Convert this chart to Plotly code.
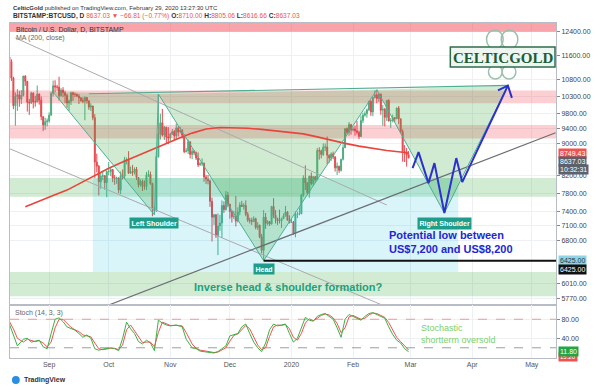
import math
import pandas as pd
import plotly.graph_objects as go
from plotly.subplots import make_subplots

# ---------------- data ----------------
# daily candles (open, high, low, close) BITSTAMP:BTCUSD
ohlc_aug19 = [  # Aug 12 - Aug 31
    (11540, 11600, 11270, 11390), (11390, 11460, 10770, 10860), (10860, 10900, 9930, 10030),
    (10030, 10420, 9470, 10300), (10300, 10520, 9880, 10350), (10350, 10470, 10000, 10220),
    (10220, 10490, 10080, 10330), (10330, 10930, 10300, 10920), (10920, 10950, 10620, 10760),
    (10760, 10770, 9860, 10130), (10130, 10230, 9770, 10110), (10110, 10440, 10080, 10400),
    (10400, 10420, 9950, 10140), (10140, 10320, 10000, 10140), (10140, 10630, 10130, 10370),
    (10370, 10390, 10060, 10190), (10190, 10300, 9620, 9720), (9720, 9720, 9330, 9490),
    (9490, 9690, 9360, 9580), (9580, 9670, 9450, 9600),
]
ohlc_sep19 = [
    (9600, 9840, 9550, 9760), (9760, 10440, 9750, 10390), (10390, 10780, 10300, 10620),
    (10620, 10790, 10420, 10580), (10580, 10650, 10470, 10580), (10580, 10900, 10180, 10320),
    (10320, 10550, 10300, 10490), (10490, 10580, 10280, 10410), (10410, 10470, 10100, 10330),
    (10330, 10380, 9970, 10110), (10110, 10210, 9880, 10160), (10160, 10440, 10050, 10410),
    (10410, 10440, 10170, 10360), (10360, 10420, 10280, 10360), (10360, 10390, 10280, 10310),
    (10310, 10370, 10080, 10260), (10260, 10280, 10140, 10180), (10180, 10270, 10100, 10160),
    (10160, 10300, 9620, 10270), (10270, 10280, 10090, 10170), (10170, 10180, 9910, 9990),
    (9990, 10100, 9880, 10020), (10020, 10030, 9620, 9690), (9690, 9790, 8150, 8530),
    (8530, 8740, 8280, 8430), (8430, 8460, 7750, 8060), (8060, 8270, 7900, 8190),
    (8190, 8320, 8100, 8200), (8200, 8220, 7880, 8040), (8040, 8330, 7710, 8300),
]
ohlc_oct19 = [
    (8300, 8530, 8210, 8300), (8300, 8390, 8190, 8350), (8350, 8360, 8050, 8150),
    (8150, 8220, 7990, 8140), (8140, 8180, 8010, 8150), (8150, 8160, 7800, 7870),
    (7870, 8300, 7780, 8200), (8200, 8350, 8110, 8190), (8190, 8660, 8120, 8590),
    (8590, 8640, 8470, 8590), (8590, 8800, 8250, 8260), (8260, 8420, 8250, 8300),
    (8300, 8460, 8200, 8280), (8280, 8400, 8230, 8360), (8360, 8410, 8100, 8160),
    (8160, 8170, 7930, 7990), (7990, 8110, 7950, 8070), (8070, 8110, 7850, 7950),
    (7950, 8090, 7880, 7950), (7950, 8290, 7870, 8220), (8220, 8330, 8170, 8230),
    (8230, 8300, 7990, 8020), (8020, 8040, 7300, 7460), (7460, 7500, 7360, 7420),
    (7420, 8790, 7390, 8660), (8660, 10370, 8640, 9250), (9250, 9800, 9100, 9550),
    (9550, 9940, 9180, 9220), (9220, 9460, 9090, 9430), (9430, 9430, 9000, 9170),
    (9170, 9430, 8980, 9140),
]
ohlc_nov19 = [
    (9140, 9280, 9050, 9250), (9250, 9380, 9220, 9310), (9310, 9360, 9090, 9200),
    (9200, 9530, 9110, 9410), (9410, 9460, 9180, 9300), (9300, 9440, 9260, 9340),
    (9340, 9380, 9130, 9210), (9210, 9240, 8750, 8790), (8790, 8880, 8770, 8810),
    (8810, 9100, 8730, 9040), (9040, 9060, 8620, 8720), (8720, 8870, 8600, 8800),
    (8800, 8830, 8700, 8760), (8760, 8790, 8580, 8630), (8630, 8770, 8410, 8460),
    (8460, 8530, 8440, 8490), (8490, 8620, 8430, 8500), (8500, 8520, 8060, 8170),
    (8170, 8220, 8010, 8120), (8120, 8220, 8000, 8080), (8080, 8110, 7500, 7620),
    (7620, 7700, 6790, 7280), (7280, 7350, 7120, 7330), (7330, 7350, 6860, 6900),
    (6900, 7360, 6530, 7100), (7100, 7330, 7000, 7160), (7160, 7640, 6860, 7530),
    (7530, 7620, 7370, 7440), (7440, 7850, 7420, 7760), (7760, 7830, 7490, 7560),
]
ohlc_dec19 = [
    (7560, 7560, 7250, 7400), (7400, 7420, 7170, 7290), (7290, 7410, 7240, 7300),
    (7300, 7740, 7090, 7200), (7200, 7490, 7170, 7390), (7390, 7600, 7320, 7540),
    (7540, 7630, 7500, 7510), (7510, 7580, 7440, 7530), (7530, 7640, 7300, 7340),
    (7340, 7390, 7180, 7220), (7220, 7270, 7150, 7210), (7210, 7270, 7120, 7190),
    (7190, 7300, 7190, 7250), (7250, 7270, 7030, 7070), (7070, 7180, 7020, 7110),
    (7110, 7130, 6850, 6880), (6880, 6940, 6560, 6620), (6620, 7430, 6430, 7280),
    (7280, 7370, 7040, 7150), (7150, 7220, 7110, 7190), (7190, 7190, 7100, 7140),
    (7140, 7520, 7130, 7510), (7510, 7690, 7260, 7320), (7320, 7430, 7150, 7250),
    (7250, 7270, 7120, 7200), (7200, 7440, 7150, 7200), (7200, 7270, 7060, 7250),
    (7250, 7360, 7250, 7310), (7310, 7520, 7290, 7390), (7390, 7410, 7210, 7220),
    (7220, 7320, 7150, 7170),
]
ohlc_jan20 = [
    (7170, 7250, 7160, 7180), (7180, 7200, 6920, 6950), (6950, 7400, 6870, 7340),
    (7340, 7400, 7260, 7350), (7350, 7490, 7320, 7350), (7350, 7780, 7350, 7760),
    (7760, 8210, 7720, 8150), (8150, 8450, 7870, 8040), (8040, 8050, 7760, 7810),
    (7810, 8200, 7700, 8190), (8190, 8280, 7980, 8020), (8020, 8190, 7960, 8180),
    (8180, 8190, 8060, 8110), (8110, 8880, 8100, 8820), (8820, 8900, 8590, 8810),
    (8810, 8840, 8620, 8720), (8720, 9000, 8680, 8900), (8900, 9000, 8800, 8910),
    (8910, 9180, 8480, 8700), (8700, 8720, 8520, 8630), (8630, 8770, 8560, 8730),
    (8730, 8790, 8600, 8660), (8660, 8670, 8300, 8390), (8390, 8520, 8220, 8430),
    (8430, 8440, 8270, 8330), (8330, 8610, 8300, 8600), (8600, 8980, 8570, 8890),
    (8890, 9400, 8880, 9390), (9390, 9420, 9240, 9290), (9290, 9570, 9200, 9500),
    (9500, 9520, 9230, 9350),
]
ohlc_feb20 = [
    (9350, 9440, 9310, 9380), (9380, 9470, 9200, 9330), (9330, 9600, 9230, 9290),
    (9290, 9340, 9110, 9180), (9180, 9750, 9170, 9610), (9610, 9830, 9540, 9760),
    (9760, 9870, 9720, 9800), (9800, 9950, 9690, 9910), (9910, 10160, 9880, 10160),
    (10160, 10190, 9740, 9850), (9850, 10290, 9730, 10270), (10270, 10480, 10240, 10350),
    (10350, 10500, 10100, 10240), (10240, 10390, 10140, 10370), (10370, 10380, 9770, 9900),
    (9900, 10050, 9470, 9930), (9930, 9970, 9450, 9700), (9700, 10200, 9600, 10180),
    (10180, 10220, 9580, 9600), (9600, 9680, 9410, 9610), (9610, 9780, 9560, 9690),
    (9690, 9710, 9570, 9660), (9660, 9980, 9650, 9960), (9960, 10020, 9510, 9660),
    (9660, 9660, 9260, 9310), (9310, 9370, 8540, 8790), (8790, 8960, 8530, 8790),
    (8790, 8880, 8420, 8703.84), (8710.00, 8805.06, 8616.66, 8637.03),
]

# MA(200, close)
ma_dates = ["2019-08-20", "2019-08-27", "2019-09-03", "2019-09-10", "2019-09-17", "2019-09-24",
            "2019-10-01", "2019-10-08", "2019-10-15", "2019-10-22", "2019-10-29", "2019-11-05",
            "2019-11-12", "2019-11-19", "2019-11-26", "2019-12-03", "2019-12-10", "2019-12-17",
            "2019-12-24", "2019-12-31", "2020-01-07", "2020-01-14", "2020-01-21", "2020-01-28",
            "2020-02-04", "2020-02-11", "2020-02-18", "2020-02-25", "2020-02-29"]
ma_values = [7500, 7630, 7750, 7870, 8040, 8220, 8380, 8530, 8680, 8830, 8980, 9130,
             9270, 9380, 9420, 9420, 9400, 9370, 9330, 9290, 9250, 9170, 9080, 9000,
             8930, 8870, 8820, 8780, 8749.43]

# Stoch (14, 3, 3)
stoch_dates = ["2019-08-12", "2019-08-14", "2019-08-16", "2019-08-19", "2019-08-21", "2019-08-23",
               "2019-08-25", "2019-08-27", "2019-08-29", "2019-08-31", "2019-09-02", "2019-09-04",
               "2019-09-06", "2019-09-08", "2019-09-10", "2019-09-12", "2019-09-14", "2019-09-16",
               "2019-09-18", "2019-09-20", "2019-09-22", "2019-09-24", "2019-09-26", "2019-09-28",
               "2019-09-30", "2019-10-02", "2019-10-04", "2019-10-06", "2019-10-08", "2019-10-10",
               "2019-10-12", "2019-10-14", "2019-10-16", "2019-10-18", "2019-10-20", "2019-10-22",
               "2019-10-24", "2019-10-26", "2019-10-28", "2019-10-30", "2019-11-01", "2019-11-04",
               "2019-11-07", "2019-11-09", "2019-11-12", "2019-11-14", "2019-11-16", "2019-11-19",
               "2019-11-21", "2019-11-23", "2019-11-25", "2019-11-27", "2019-11-29", "2019-12-01",
               "2019-12-03", "2019-12-05", "2019-12-07", "2019-12-09", "2019-12-11", "2019-12-13",
               "2019-12-15", "2019-12-17", "2019-12-19", "2019-12-21", "2019-12-23", "2019-12-25",
               "2019-12-27", "2019-12-29", "2019-12-31", "2020-01-02", "2020-01-04", "2020-01-06",
               "2020-01-08", "2020-01-10", "2020-01-12", "2020-01-14", "2020-01-16", "2020-01-18",
               "2020-01-20", "2020-01-22", "2020-01-24", "2020-01-26", "2020-01-28", "2020-01-30",
               "2020-02-01", "2020-02-03", "2020-02-05", "2020-02-07", "2020-02-09", "2020-02-11",
               "2020-02-13", "2020-02-15", "2020-02-17", "2020-02-19", "2020-02-21", "2020-02-23",
               "2020-02-25", "2020-02-27", "2020-02-29"]
stoch_k = [70, 45, 24, 38, 40, 32, 34, 36, 22, 18, 50, 80,
           83, 75, 64, 60, 57, 50, 42, 47, 40, 18, 15, 17,
           19, 20, 18, 14, 40, 74, 60, 50, 33, 28, 36, 30,
           14, 78, 72, 68, 66, 68, 64, 38, 20, 18, 13, 12,
           10, 9, 12, 18, 24, 45, 48, 50, 64, 70, 50, 32,
           20, 12, 30, 58, 70, 66, 68, 70, 50, 32, 40, 60,
           84, 78, 76, 86, 90, 92, 86, 80, 62, 42, 80, 90,
           86, 82, 78, 86, 92, 94, 90, 86, 82, 64, 48, 36,
           30, 18, 11.8]
stoch_d = [75, 60, 40, 32, 38, 36, 33, 35, 30, 22, 32, 62,
           80, 80, 72, 63, 58, 54, 47, 45, 43, 30, 18, 16,
           18, 19, 19, 16, 26, 58, 68, 56, 42, 31, 32, 32,
           22, 52, 74, 70, 67, 67, 66, 52, 28, 19, 15, 13,
           11, 10, 11, 15, 20, 34, 46, 49, 57, 67, 60, 42,
           26, 16, 20, 44, 64, 68, 67, 69, 60, 42, 36, 50,
           72, 81, 77, 82, 88, 91, 89, 83, 71, 52, 62, 85,
           88, 84, 80, 82, 89, 93, 92, 88, 84, 73, 56, 42,
           33, 24, 15.2]

month_ticks = ["2019-09-01", "2019-10-01", "2019-11-01", "2019-12-01", "2020-01-01",
               "2020-02-01", "2020-03-01", "2020-04-01", "2020-05-01"]
month_labels = ["Sep", "Oct", "Nov", "Dec", "2020", "Feb", "Mar", "Apr", "May"]
price_ticks = [12400, 11600, 10800, 10300, 9800, 9400, 9000, 8200, 7800, 7400, 7100, 6800, 6010, 5770]

# drawings (date, price)
resistance_zones = [(12400, 13500), (10100, 10480), (9130, 9490)]
support_zones = [(7720, 8150), (5800, 6220)]
range_box_dates = ["2019-09-23", "2020-03-25"]
range_box_prices = [6220, 8150]
hs_dates = ["2019-09-03", "2019-10-24", "2019-10-26", "2019-12-18", "2020-02-13", "2020-03-18", "2020-04-19"]
hs_prices = [10430, 7330, 10370, 6425, 10500, 7370, 10630]
neck_dates = ["2019-09-21", "2020-04-19"]
neck_prices = [10380, 10630]
proj_dates = ["2020-03-02", "2020-03-05", "2020-03-10", "2020-03-13", "2020-03-18",
              "2020-03-24", "2020-03-27", "2020-04-19"]
proj_prices = [8384, 8778, 8030, 8505, 7370, 8628, 8053, 10626]
arrow_dates = ["2020-04-14", "2020-04-19", "2020-04-21"]
arrow_prices = [10480, 10626, 10257]
trend1 = (["2019-08-15", "2020-02-18"], [12185, 7540])
trend2 = (["2019-08-12", "2020-02-18"], [8866, 5625])
trend3 = (["2019-10-01", "2020-05-13"], [5657, 9281])
head_low = 6425.00
ma_last = 8749.43
stoch_last = 11.80

# ---------------- build ----------------
ohlc = ohlc_aug19 + ohlc_sep19 + ohlc_oct19 + ohlc_nov19 + ohlc_dec19 + ohlc_jan20 + ohlc_feb20
dates = pd.date_range("2019-08-12", periods=len(ohlc), freq="D")
opens = [r[0] for r in ohlc]
highs = [r[1] for r in ohlc]
lows = [r[2] for r in ohlc]
closes = [r[3] for r in ohlc]

X0, X1 = "2019-08-12 07:00", "2020-05-13 05:00"
Y_LO, Y_HI = 5657, 12720
FONT = "Liberation Sans"
UP, DOWN = "#4cae80", "#e5484f"

fig = make_subplots(rows=2, cols=1, shared_xaxes=True, row_heights=[282, 53], vertical_spacing=0)


def poly(xs, ys, fill, line="rgba(0,0,0,0)", width=0, row=1):
    fig.add_trace(go.Scatter(x=xs, y=ys, fill="toself", fillcolor=fill, mode="lines",
                             line=dict(color=line, width=width), hoverinfo="skip",
                             showlegend=False), row=row, col=1)


def line(xs, ys, color, width=1, dash="solid", row=1):
    fig.add_trace(go.Scatter(x=xs, y=ys, mode="lines", line=dict(color=color, width=width, dash=dash),
                             hoverinfo="skip", showlegend=False), row=row, col=1)


# zones
for lo, hi in resistance_zones:
    a = 0.45 if lo >= 12000 else 0.24
    poly([X0, X1, X1, X0, X0], [lo, lo, hi, hi, lo], f"rgba(242,54,69,{a})")
for lo, hi in support_zones:
    poly([X0, X1, X1, X0, X0], [lo, lo, hi, hi, lo], "rgba(76,175,80,0.25)")
bx, by = range_box_dates, range_box_prices
poly([bx[0], bx[1], bx[1], bx[0], bx[0]], [by[0], by[0], by[1], by[1], by[0]], "rgba(0,188,212,0.15)")

# head & shoulders triangles
tri_fill = "rgba(76,175,80,0.26)"
poly([hs_dates[0], hs_dates[1], hs_dates[2], hs_dates[0]], [hs_prices[0], hs_prices[1], hs_prices[2], hs_prices[0]], tri_fill)
poly([hs_dates[2], hs_dates[3], hs_dates[4], hs_dates[2]], [hs_prices[2], hs_prices[3], hs_prices[4], hs_prices[2]], tri_fill)
poly([hs_dates[4], hs_dates[5], hs_dates[6], hs_dates[4]], [hs_prices[4], hs_prices[5], hs_prices[6], hs_prices[4]], tri_fill)

# trend lines
line(*trend1, "#a8abb0", 1)
line(*trend2, "#a8abb0", 1)
line(*trend3, "#6b6e73", 1.2)

# candles
fig.add_trace(go.Candlestick(x=dates, open=opens, high=highs, low=lows, close=closes,
                             increasing=dict(line=dict(color=UP, width=1), fillcolor=UP),
                             decreasing=dict(line=dict(color=DOWN, width=1), fillcolor=DOWN),
                             whiskerwidth=0, hoverinfo="skip", showlegend=False), row=1, col=1)

# MA 200
line(ma_dates, ma_values, "#e8453c", 1.6)

# H&S outline + neckline
line(hs_dates, hs_prices, "#4fae94", 1)
line(neck_dates, neck_prices, "#4fae94", 1.2)

# support line at head low
line([hs_dates[3], X1], [head_low, head_low], "#111111", 2)

# projected path
line(proj_dates, proj_prices, "#2d2fd0", 2)
line(arrow_dates, arrow_prices, "#2d2fd0", 2)

# stochastic
line([X0, X1], [80, 80], "#e89a9a", 1, "dash", row=2)
line([X0, X1], [20, 20], "#9a9ea6", 1, "dash", row=2)
line(stoch_dates, stoch_d, "#ef5350", 1, row=2)
line(stoch_dates, stoch_k, "#3cb043", 1, row=2)

# ---------------- axes ----------------
grid = "#edf0f4"
border = "#b8bcc4"
fig.update_xaxes(range=[X0, X1], tickvals=month_ticks, ticktext=month_labels, showgrid=True,
                 gridcolor=grid, gridwidth=1, zeroline=False, rangeslider_visible=False,
                 showline=True, linecolor=border, linewidth=1, mirror=True,
                 tickfont=dict(family=FONT, size=7, color="#555"), ticks="", fixedrange=True)
fig.update_xaxes(showticklabels=False, row=1, col=1)
fig.update_yaxes(type="log", range=[math.log10(Y_LO), math.log10(Y_HI)], side="right",
                 tickvals=price_ticks, ticktext=[f"{v:.2f}" for v in price_ticks],
                 tickfont=dict(family=FONT, size=7, color="#444"), showgrid=True, gridcolor=grid,
                 ticks="outside", ticklen=3, tickcolor="#888", showline=True, linecolor=border,
                 mirror=True, zeroline=False, row=1, col=1)
fig.update_yaxes(range=[-1.5, 110], side="right", tickvals=[80, 40], ticktext=["80.00", "40.00"],
                 tickfont=dict(family=FONT, size=7, color="#444"), showgrid=True, gridcolor=grid,
                 ticks="outside", ticklen=3, tickcolor="#888", showline=True, linecolor=border,
                 mirror=True, zeroline=False, row=2, col=1)

# ---------------- text ----------------
PX0, PX1, PY0, PY1 = 9, 567, 23, 358


def px(x):
    return (x - PX0) / (PX1 - PX0)


def py(y):
    return (PY1 - y) / (PY1 - PY0)


ann = []


def text(x, y, s, size=7, color="#333", xanchor="left", yanchor="middle", **kw):
    ann.append(dict(x=x, y=y, xref="paper", yref="paper", text=s, showarrow=False, xanchor=xanchor,
                    yanchor=yanchor, font=dict(family=FONT, size=size, color=color), **kw))


red = "#ef5350"
last_o, last_h, last_l, last_c = ohlc[-1]
chg = last_c - closes[-2]
pct = chg / closes[-2] * 100
text(px(10), py(7.5), "<b>CelticGold</b> published on TradingView.com, February 29, 2020 13:27:30 UTC", 6, "#333")
text(px(10), py(16), f"<b>BITSTAMP:BTCUSD, D</b> <span style='color:{red}'>{last_c:.2f} ▼ "
     f"−{abs(chg):.2f} (−{abs(pct):.2f}%)</span> <b>O:</b><span style='color:{red}'>{last_o:.2f}</span> "
     f"<b>H:</b><span style='color:{red}'>{last_h:.2f}</span> <b>L:</b><span style='color:{red}'>{last_l:.2f}</span> "
     f"<b>C:</b><span style='color:{red}'>{last_c:.2f}</span>", 6.6, "#333")
text(px(13), py(29.5), "Bitcoin / U.S. Dollar, D, BITSTAMP", 7, "#333")
text(px(13), py(38.5), "MA (200, close)", 7, "#666")
text(px(12), py(313), "Stoch (14, 3, 3)", 7, "#666")
text(px(21), py(380), "<b>TradingView</b>", 7, "#333")

# labels on the pattern
lbl = dict(showarrow=False, xref="x", yref="y", bgcolor="#1e9e8a", borderpad=1.5,
           font=dict(family=FONT, size=7, color="white"), yanchor="top")
ann.append(dict(x=hs_dates[1], y=math.log10(hs_prices[1]), text="<b>Left Shoulder</b>", yshift=-2, **lbl))
ann.append(dict(x=hs_dates[3], y=math.log10(hs_prices[3]), text="<b>Head</b>", yshift=-2, **lbl))
ann.append(dict(x=hs_dates[5], y=math.log10(hs_prices[5]), text="<b>Right Shoulder</b>", yshift=-4, **lbl))

ann.append(dict(x="2020-02-18", y=math.log10(6781), xref="x", yref="y", showarrow=False,
                xanchor="left", yanchor="middle", align="left",
                text="<b>Potential low between<br>US$7,200 and US$8,200</b>",
                font=dict(family=FONT, size=11, color="#2326d2")))
ann.append(dict(x="2019-11-12", y=math.log10(5955), xref="x", yref="y", showarrow=False,
                xanchor="left", yanchor="middle", text="<b>Inverse head &amp; shoulder formation?</b>",
                font=dict(family=FONT, size=11, color="#22a07a")))
ann.append(dict(x="2020-03-05", y=49, xref="x2", yref="y2", showarrow=False, xanchor="left",
                yanchor="middle", align="left", text="Stochastic<br>shortterm oversold",
                font=dict(family=FONT, size=9, color="#7ccf6e")))

# axis tags
tag = dict(xref="paper", x=1, xanchor="left", xshift=2, showarrow=False, borderpad=1)
ann.append(dict(y=math.log10(ma_last), yref="y", text=f"{ma_last:.2f}", bgcolor=red,
                font=dict(family=FONT, size=7, color="white"), **tag))
ann.append(dict(y=math.log10(last_c), yref="y", yshift=-4, text=f"{last_c:.2f}", bgcolor="#5d616b",
                font=dict(family=FONT, size=7, color="white"), **tag))
ann.append(dict(y=math.log10(last_c), yref="y", yshift=-12, text="10:32:31", bgcolor="#5d616b",
                font=dict(family=FONT, size=7, color="white"), **tag))
ann.append(dict(y=math.log10(head_low), yref="y", text=f"{head_low:.2f}", bgcolor="#8ed3e6",
                font=dict(family=FONT, size=7, color="#1b3b4a"), **tag))
ann.append(dict(y=math.log10(head_low), yref="y", yshift=-9, text=f"{head_low:.2f}", bgcolor="#111",
                font=dict(family=FONT, size=7, color="white"), **tag))
ann.append(dict(y=stoch_d[-1], yref="y2", yshift=-7, text=f"{stoch_d[-1]:.2f}", bgcolor=red,
                font=dict(family=FONT, size=6, color="white"), **tag))
ann.append(dict(y=stoch_last, yref="y2", text=f"{stoch_last:.2f}", bgcolor="#22a447",
                font=dict(family=FONT, size=7, color="white"), **tag))

# Celtic Gold logo
shapes = [
    dict(type="circle", xref="paper", yref="paper", x0=px(496), x1=px(513), y0=py(49), y1=py(30),
         line=dict(color="#9dbfae", width=1.5)),
    dict(type="circle", xref="paper", yref="paper", x0=px(511), x1=px(528), y0=py(49), y1=py(30),
         line=dict(color="#9dbfae", width=1.5)),
    dict(type="circle", xref="paper", yref="paper", x0=px(498), x1=px(512), y0=py(79), y1=py(65),
         line=dict(color="#9dbfae", width=1.5)),
    dict(type="circle", xref="paper", yref="paper", x0=px(512), x1=px(526), y0=py(79), y1=py(65),
         line=dict(color="#9dbfae", width=1.5)),
    dict(type="rect", xref="paper", yref="paper", x0=px(459), x1=px(566), y0=py(67), y1=py(47),
         line=dict(color="#2f6e4c", width=1.5), fillcolor="rgba(235,245,238,0.9)"),
    dict(type="circle", xref="paper", yref="paper", x0=px(11), x1=px(19), y0=py(384), y1=py(376),
         line=dict(width=0), fillcolor="#2a8fe0"),
]
text(px(512.5), py(57.5), "<b>CELTICGOLD</b>", 15, "#1d5c39", xanchor="center")
ann[-1]["font"]["family"] = "Liberation Serif"

fig.update_layout(width=600, height=386, margin=dict(l=9, r=33, t=23, b=28),
                  paper_bgcolor="white", plot_bgcolor="white", showlegend=False,
                  annotations=ann, shapes=shapes, hovermode=False)
fig.write_html("out.html", config={"displayModeBar": False, "staticPlot": True},
               post_script="document.body.style.margin='0';document.body.style.padding='0';")
